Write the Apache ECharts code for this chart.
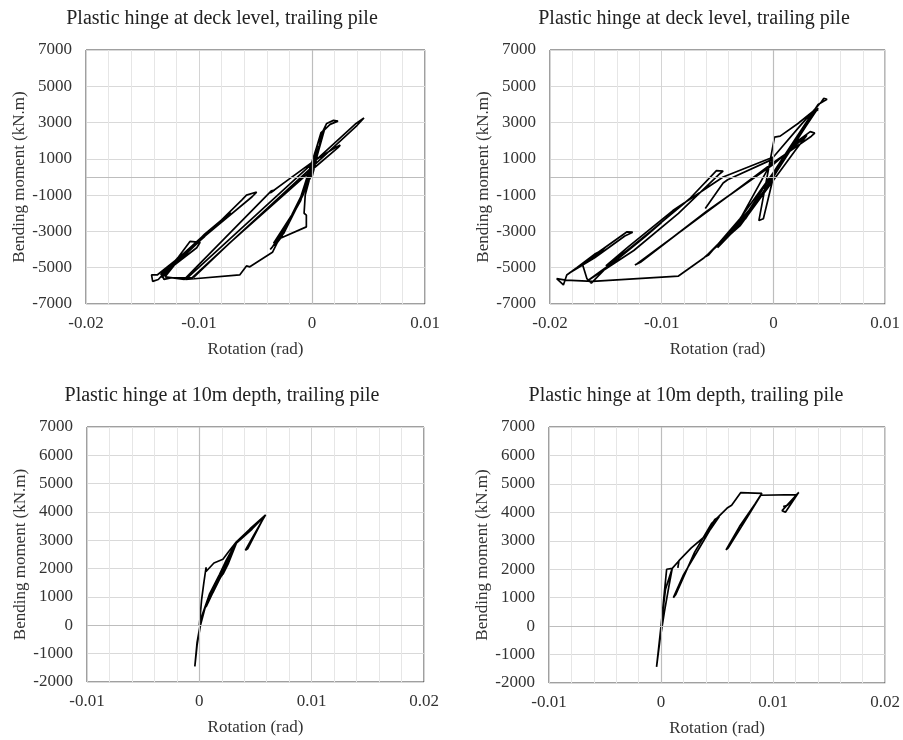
<!DOCTYPE html>
<html>
<head>
<meta charset="utf-8">
<script src="https://cdn.jsdelivr.net/npm/echarts@6/dist/echarts.min.js"></script>
<style>
html, body { margin: 0; padding: 0; background: #fff; }
#chart { width: 903px; height: 740px; }
</style>
</head>
<body>
<div id="chart"></div>
<script>
// panel titles
const titles = [
    'Plastic hinge at deck level, trailing pile',
    'Plastic hinge at deck level, trailing pile',
    'Plastic hinge at 10m depth, trailing pile',
    'Plastic hinge at 10m depth, trailing pile'
];

// axis ranges [min, max, interval]
const rotTop = [-0.02, 0.01, 0.01];
const rotBottom = [-0.01, 0.02, 0.01];
const momTop = [-7000, 7000, 2000];
const momBottom = [-2000, 7000, 1000];

// rotation (rad), bending moment (kN.m)
const deckTrailA = [
    [0, 0], [0.0004, 1000], [0.0009, 2450], [0.0013, 2950], [0.0019, 3120], [0.0023, 3080], [0.0016, 2900], [0.0011, 2600],
    [0.0002, 600], [-0.0008, -1000], [-0.0025, -3100], [-0.0037, -4000], [-0.0035, -3850],
    [-0.0022, -2700], [-0.0008, -900], [0.0003, 800], [0.0010, 2550], [0.0008, 2450],
    [-0.0010, -1300], [-0.0030, -3500], [-0.0034, -3650], [-0.0018, -2100], [0.0000, 150], [0.0009, 2350],
    [0.0007, 2200], [-0.0012, -1500], [-0.0033, -3800], [-0.0027, -3300], [-0.0006, -700], [0.0006, 1700],
    [0.0000, 400], [-0.0006, -1000], [-0.0007, -2000], [-0.0005, -2100], [-0.0005, -2750], [-0.0029, -3400],
    [-0.0035, -4150], [-0.0055, -4950], [-0.0058, -4900], [-0.0064, -5400], [-0.0112, -5650],
    [0.0039, 2950], [0.0046, 3250], [0.0047, 3200], [0.0040, 2850], [-0.0106, -5550],
    [-0.0125, -5560], [-0.0131, -5640], [-0.0133, -5350], [-0.0095, -3280], [-0.0062, -1260], [-0.0058, -1000],
    [-0.0049, -830], [-0.0053, -1090], [-0.0085, -2750], [-0.0120, -4560], [-0.0137, -5400],
    [-0.0142, -5400], [-0.0141, -5750], [-0.0136, -5650], [-0.0118, -4400], [-0.0108, -3550], [-0.0099, -3600],
    [-0.0102, -3900], [-0.0125, -5000], [-0.0133, -5550],
    [-0.0128, -5250], [-0.0095, -3150], [-0.0072, -1950], [-0.0078, -2350], [-0.0117, -4450], [-0.0134, -5400],
    [-0.0124, -4800], [-0.0092, -3000], [-0.0082, -2500], [-0.0121, -4800], [-0.0130, -5500],
    [-0.0113, -5640], [-0.0036, -760], [-0.0033, -720], [-0.0037, -880], [-0.0020, -100], [0.0003, 940],
    [0.0020, 1600], [0.0025, 1760], [0.0023, 1620], [0.0000, 400], [-0.0073, -3650], [-0.0105, -5550]
];

const deckTrailB = [
    [0, 0], [-0.0009, -2300], [-0.0013, -2400], [0.0001, 2200], [0.0006, 2250], [0.0022, 2950], [0.0037, 3700],
    [0.0040, 3720], [0.0037, 3580],
    [0.0012, 1300], [-0.0010, -900], [-0.0035, -2900], [-0.0061, -4400], [-0.0058, -4300], [-0.0030, -2300],
    [0.0000, 250], [0.0022, 2000], [0.0033, 2500], [0.0037, 2420], [0.0034, 2250],
    [0.0000, 800], [-0.0060, -1950], [-0.0122, -4780], [-0.0124, -4850], [-0.0119, -4700], [-0.0060, -1900],
    [0.0000, 700], [0.0030, 2300], [0.0020, 1500],
    [-0.0030, -2700], [-0.0062, -4450], [-0.0085, -5460], [-0.0162, -5750], [-0.0186, -5680], [-0.0194, -5600],
    [-0.0188, -5950], [-0.0185, -5400],
    [-0.0158, -4200], [-0.0131, -3020], [-0.0126, -3040], [-0.0133, -3250], [-0.0160, -4450], [-0.0183, -5300],
    [-0.0178, -5100], [-0.0150, -3850], [-0.0158, -4300], [-0.0176, -5000], [-0.0160, -4250], [-0.0152, -4000],
    [-0.0171, -4800],
    [-0.0167, -5600], [-0.0163, -5850], [-0.0148, -4900], [-0.0110, -3000], [-0.0075, -1200], [-0.0051, 350],
    [-0.0045, 330], [-0.0048, 180], [-0.0085, -2000], [-0.0125, -4050], [-0.0166, -5700],
    [-0.0140, -4550], [-0.0115, -3300], [-0.0100, -2500], [-0.0108, -2900], [-0.0130, -4000], [-0.0150, -4900],
    [-0.0130, -3850], [-0.0090, -1850], [-0.0045, 0], [0.0000, 1100], [0.0025, 2900], [0.0043, 4150],
    [0.0045, 4330], [0.0048, 4280], [0.0040, 4000],
    [0.0010, 1200], [-0.0030, -2600], [-0.0060, -4350], [-0.0040, -3100], [-0.0010, -1000], [0.0015, 1500],
    [0.0040, 3800], [0.0038, 3650], [0.0005, 500], [-0.0025, -2300], [-0.0050, -3900], [-0.0035, -2900],
    [0.0000, 1000], [-0.0041, -150], [-0.0045, -330], [-0.0061, -1740]
];

const depthTrailA = [
    [0, 0], [0.0002, 900], [0.0004, 1500], [0.0006, 2050], [0.0006, 1900], [0.0013, 2200], [0.0021, 2330],
    [0.0026, 2600], [0.0033, 2950], [0.0045, 3400], [0.0059, 3900], [0.0056, 3700], [0.0048, 3150],
    [0.0041, 2650], [0.0043, 2700], [0.0054, 3550], [0.0058, 3850], [0.0047, 3400], [0.0033, 2900],
    [0.0028, 2500], [0.0020, 1900], [0.0012, 1300], [0.0005, 600], [0.0001, 0], [-0.0002, -700],
    [-0.0004, -1450], [-0.0002, -600], [0.0002, 300], [0.0009, 1100], [0.0018, 1800], [0.0024, 2300],
    [0.0031, 2800], [0.0033, 2900], [0.0026, 2200], [0.0021, 1800], [0.0027, 2400], [0.0032, 2850],
    [0.0024, 2050], [0.0014, 1350], [0.0006, 650], [0.0012, 1150], [0.0022, 1950], [0.0030, 2700],
    [0.0025, 2150], [0.0020, 1750], [0.0029, 2550]
];

const depthTrailB = [
    [0, 0], [0.0003, 1200], [0.0005, 2000], [0.0010, 2030], [0.0007, 1400], [0.0003, 500], [-0.0001, -500],
    [-0.0004, -1430], [0.0000, 0], [0.0004, 1300], [0.0010, 2030], [0.0016, 2300], [0.0015, 2050],
    [0.0016, 2300], [0.0027, 2750], [0.0039, 3150], [0.0048, 3750], [0.0052, 3850], [0.0044, 3400],
    [0.0035, 2800], [0.0020, 1800], [0.0011, 1000], [0.0013, 1100], [0.0030, 2600], [0.0045, 3600],
    [0.0059, 4150], [0.0063, 4250], [0.0071, 4690], [0.0090, 4670], [0.0084, 4300], [0.0070, 3500],
    [0.0058, 2680], [0.0060, 2750], [0.0075, 3700], [0.0089, 4600], [0.0121, 4620], [0.0123, 4700],
    [0.0108, 4060], [0.0111, 4000], [0.0122, 4650], [0.0113, 4250], [0.0109, 4200]
];

const curves = [deckTrailA, deckTrailB, depthTrailA, depthTrailB];

const chart = echarts.init(document.getElementById('chart'));

const FONT = 'Liberation Serif';
const TEXT = '#333';

// plot boxes; titles sit centred over the whole panel, not the plot box
const boxes = [
    {left: 86, top: 50, width: 339, height: 254},
    {left: 550, top: 50, width: 339, height: 254},
    {left: 87, top: 427, width: 337, height: 255},
    {left: 549, top: 427, width: 339, height: 256}
];
const titleX = [222, 694, 222, 686];

const grid = [], xAxis = [], yAxis = [], series = [], title = [];

boxes.forEach((b, i) => {
    const top = i < 2;
    const rot = top ? rotTop : rotBottom;
    const mom = top ? momTop : momBottom;

    grid.push(Object.assign({show: true, borderColor: '#404040', borderWidth: 1, backgroundColor: '#fff'}, b));

    title.push({
        text: titles[i],
        left: titleX[i],
        top: b.top - 41,
        textAlign: 'center',
        padding: 0,
        textStyle: {fontFamily: FONT, fontSize: 20, fontWeight: 'normal', color: '#222'}
    });

    xAxis.push({
        gridIndex: i,
        type: 'value',
        min: rot[0], max: rot[1], interval: rot[2],
        name: 'Rotation (rad)',
        nameLocation: 'middle',
        nameGap: 37,
        nameTextStyle: {fontFamily: FONT, fontSize: 17, color: TEXT},
        axisLine: {show: false, onZero: false},
        axisTick: {show: false},
        axisLabel: {
            fontFamily: FONT, fontSize: 17, color: TEXT, margin: 11,
            formatter: v => v === 0 ? '0' : String(+v.toFixed(3))
        },
        splitLine: {show: true, lineStyle: {color: '#d4d4d4', width: 1}},
        minorTick: {show: false, splitNumber: 5},
        minorSplitLine: {show: true, lineStyle: {color: '#e6e6e6', width: 1}}
    });

    yAxis.push({
        gridIndex: i,
        type: 'value',
        min: mom[0], max: mom[1], interval: mom[2],
        name: 'Bending moment (kN.m)',
        nameLocation: 'middle',
        nameGap: 58,
        nameTextStyle: {fontFamily: FONT, fontSize: 17, color: TEXT},
        axisLine: {show: false, onZero: false},
        axisTick: {show: false},
        axisLabel: {fontFamily: FONT, fontSize: 17, color: TEXT, margin: 14, formatter: v => String(v)},
        splitLine: {show: true, lineStyle: {color: '#d9d9d9', width: 1}}
    });

    series.push({
        type: 'line',
        xAxisIndex: i,
        yAxisIndex: i,
        data: curves[i],
        showSymbol: false,
        symbol: 'none',
        z: 3,
        lineStyle: {color: '#000', width: 1.7},
        markLine: {
            silent: true,
            symbol: 'none',
            label: {show: false},
            lineStyle: {color: '#bdbdbd', type: 'solid', width: 1.2},
            data: [{xAxis: 0}, {yAxis: 0}]
        }
    });
});

chart.setOption({
    animation: false,
    backgroundColor: '#fff',
    title: title,
    grid: grid,
    xAxis: xAxis,
    yAxis: yAxis,
    series: series
});
</script>
</body>
</html>
